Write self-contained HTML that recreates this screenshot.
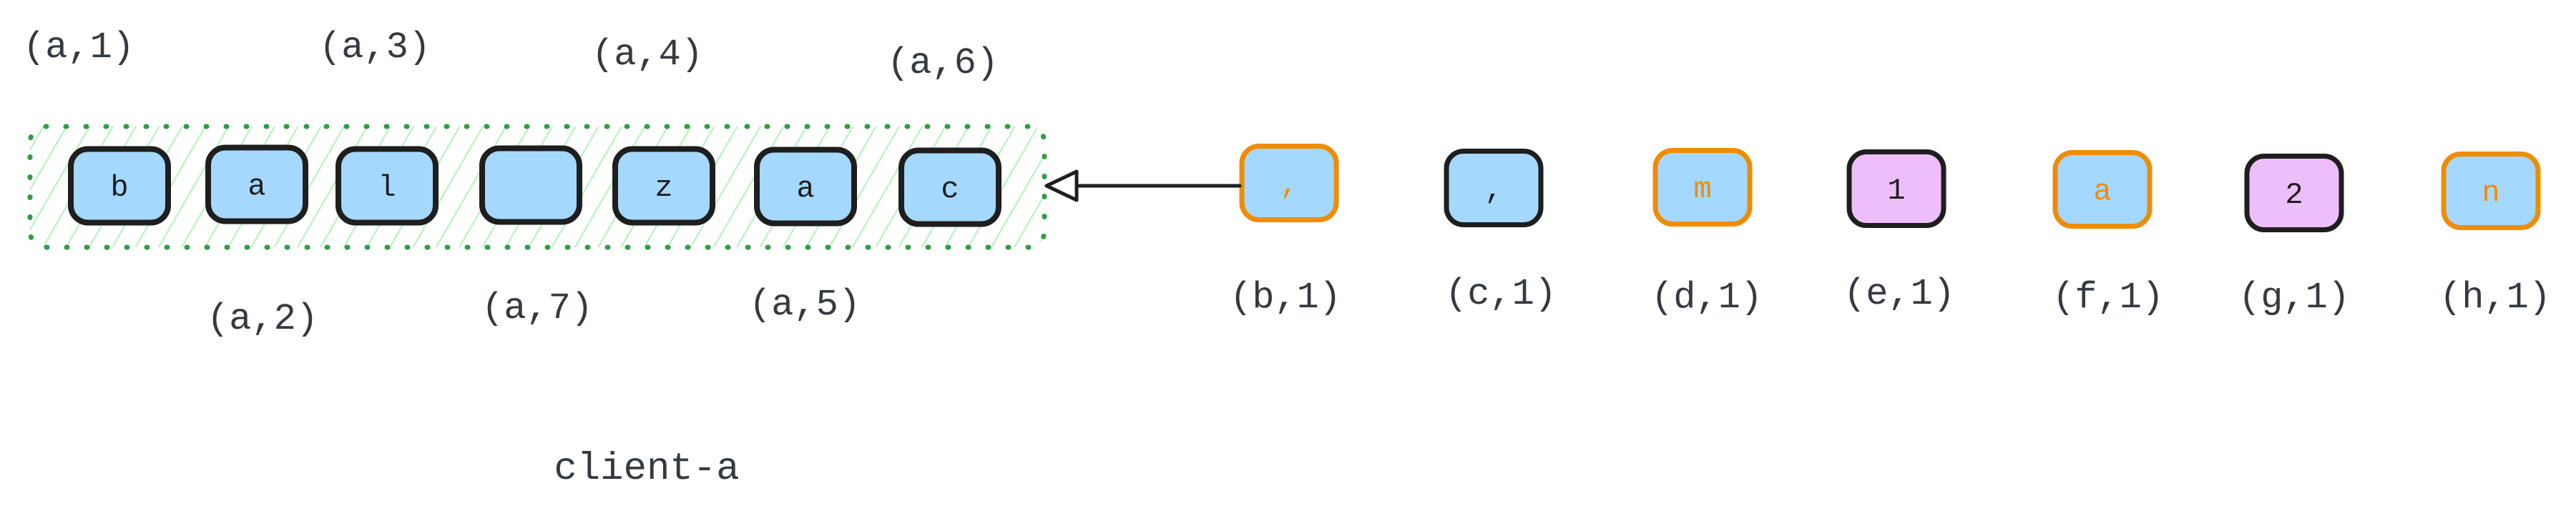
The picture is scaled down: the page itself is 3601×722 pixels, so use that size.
<!DOCTYPE html>
<html><head><meta charset="utf-8"><style>
html,body{margin:0;padding:0;background:#fff;}
svg{display:block;}
text{font-family:"Liberation Mono","DejaVu Sans Mono",monospace;fill:#343a40;}
</style></head><body>
<svg id="chart" width="3601" height="722" viewBox="0 0 3601 722" xmlns="http://www.w3.org/2000/svg">
<defs>
<pattern id="hatch" patternUnits="userSpaceOnUse" width="28" height="28" patternTransform="rotate(30)">
<line x1="0" y1="0" x2="0" y2="28" stroke="#b2f2bb" stroke-width="4"/>
</pattern>
</defs>
<rect x="42" y="177" width="1418" height="169" rx="22" fill="url(#hatch)" stroke="#2f9e44" stroke-width="7" stroke-dasharray="1 27" stroke-linecap="round"/>
<g id="boxes"></g>
<line x1="1733" y1="260" x2="1468" y2="260" stroke="#1e1e1e" stroke-width="5" stroke-linecap="round"/>
<polygon points="1463,260 1505,240 1505,280" fill="#fff" stroke="#1e1e1e" stroke-width="5" stroke-linejoin="round"/>
<text x="904" y="670" font-size="54" text-anchor="middle">client-a</text>
</svg>
<script>
const chars=['b','a','l','','z','a','c',',',',','m','1','a','2','n'];
const ids=['(a,1)','(a,2)','(a,3)','(a,7)','(a,4)','(a,5)','(a,6)','(b,1)','(c,1)','(d,1)','(e,1)','(f,1)','(g,1)','(h,1)'];
const cx=[167,359,541,742,928,1126,1328,1802,2088,2380,2651,2939,3207,3482];
const cy=[260,258,260,259,260,261,262,256,263,262,264,265,270,267];
const labelX=[110,367,524,751,905,1125,1318,1797,2098,2386,2655,2947,3207,3488];
const labelY=[80,460,80,445,90,440,102,430,425,430,425,430,430,430];
const fills=['#a5d8ff','#a5d8ff','#a5d8ff','#a5d8ff','#a5d8ff','#a5d8ff','#a5d8ff','#a5d8ff','#a5d8ff','#a5d8ff','#eebefa','#a5d8ff','#eebefa','#a5d8ff'];
const strokes=['#1e1e1e','#1e1e1e','#1e1e1e','#1e1e1e','#1e1e1e','#1e1e1e','#1e1e1e','#f08c00','#1e1e1e','#f08c00','#1e1e1e','#f08c00','#1e1e1e','#f08c00'];
const NS='http://www.w3.org/2000/svg';
const g=document.getElementById('boxes');
const svg=document.getElementById('chart');
for(let i=0;i<chars.length;i++){
  const w=i<7?136:132,h=103;
  const r=document.createElementNS(NS,'rect');
  r.setAttribute('x',cx[i]-w/2);r.setAttribute('y',cy[i]-h/2);
  r.setAttribute('width',w);r.setAttribute('height',h);r.setAttribute('rx',24);
  r.setAttribute('fill',fills[i]);r.setAttribute('stroke',strokes[i]);r.setAttribute('stroke-width',i<7?8:7);
  
  
  g.appendChild(r);
  const t=document.createElementNS(NS,'text');
  t.setAttribute('x',cx[i]);t.setAttribute('y',cy[i]+14);
  t.setAttribute('font-size','42');t.setAttribute('text-anchor','middle');
  t.setAttribute('style','fill:'+(strokes[i]==='#f08c00'?'#f08c00':'#1e1e1e'));
  t.textContent=chars[i];
  
  
  g.appendChild(t);
  const l=document.createElementNS(NS,'text');
  l.setAttribute('x',labelX[i]);l.setAttribute('y',labelY[i]);
  l.setAttribute('font-size','52');l.setAttribute('text-anchor','middle');
  l.textContent=ids[i];
  
  
  svg.appendChild(l);
}
</script>
</body></html>
